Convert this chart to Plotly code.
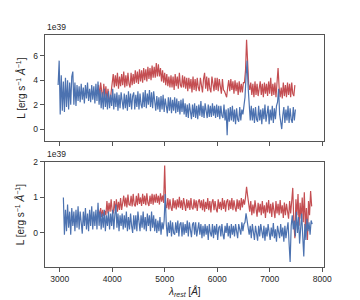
import numpy as np
import plotly.graph_objects as go
from plotly.subplots import make_subplots

# wavelength sampling (start, step in Angstrom) for each spectrum
top_blue_start, top_red_start = 2970, 3740
bot_blue_start, bot_red_start = 3070, 3740
step = 20

# luminosity values in units of 1e39 erg/s/A
top_blue = [
    3.6, 5.6, 1.2, 4.4, 1.5, 3.9, 1.4, 4.2, 1.8, 4.0, 1.6, 3.8, 2.0, 4.3,
    4.7, 2.0, 3.8, 1.9, 3.6, 2.3,
    3.5, 2.2, 3.7, 2.4, 3.4, 2.1, 3.6, 2.5, 3.8, 2.3, 3.3, 2.2, 3.6, 2.4, 3.5, 2.1, 3.7, 2.3, 3.9, 2.0,
    3.2, 1.7, 3.0, 1.6, 3.3, 1.8, 2.9, 1.6, 3.1, 1.7, 2.8, 1.9, 3.3,
    1.6, 2.9, 1.8, 3.0, 1.5, 2.8, 1.7, 3.0, 2.0, 1.6, 2.9, 1.7, 2.8, 1.5, 3.1, 1.8, 2.9, 1.6, 2.7, 3.0,
    1.6, 2.8, 1.8, 3.1, 1.6, 2.9, 2.0, 1.7, 3.0, 1.8, 3.2, 1.7, 2.9, 2.0, 3.2, 1.8, 3.0, 1.7, 3.1, 1.9,
    1.5, 2.7, 1.6, 2.6, 1.4, 2.7, 1.6, 2.8, 1.4, 2.5, 1.7, 1.3, 2.6, 1.5, 2.6, 1.3, 2.4, 1.5, 2.6, 1.3,
    2.5, 1.4, 2.3, 1.2, 2.4, 1.4, 2.5, 1.2,
    2.1, 1.0, 2.0, 0.9, 2.1, 1.1, 0.8, 2.0, 1.0, 2.1, 0.9, 1.9, 0.8, 2.0, 1.1, 2.3, 1.0, 1.9, 0.9, 2.1,
    1.2, 0.9, 2.0, 1.0, 1.9,
    1.0, 2.1, 1.1, 1.9, 0.9, 2.0, 1.0, 1.9, 0.8, 1.9, 1.1, 0.9, 2.0, 0.7, 1.6,
    -0.5,
    1.7, 0.6, 1.8, 0.7, 1.9, 0.6, 1.6, 0.4, 1.7, 0.8, 0.6, 1.8, 0.7, 1.6, 1.2, 1.9,
    2.6, 4.3, 5.6, 3.4, 1.6,
    0.7, 1.9, 0.7, 1.7, 0.5, 1.8, 0.8, 0.6, 1.9, 0.7, 1.6, 0.4, 1.7, 0.8, 2.0, 0.6, 1.5, 1.9, 0.4, 1.6,
    0.7, 1.9, 0.5, 1.7, 0.8, 1.9,
    2.2, 3.3, 1.2,
    0.4, 0.0, 1.1,
    1.8, 0.5, 1.6, 0.7, 1.9, 0.5, 1.7, 0.8, 0.5, 1.8, 0.7, 1.6,
]
top_red = [
    3.6, 2.6, 3.8, 2.8, 2.4, 3.7, 2.6, 3.5, 2.3, 3.3, 2.5, 2.3, 3.2, 3.9,
    4.5, 3.4, 4.4, 3.5, 4.6, 3.3, 4.3, 3.5, 4.5, 3.6, 4.7, 3.4, 4.4, 3.5, 4.6, 3.7, 3.4, 4.6, 3.6, 4.5,
    3.7, 4.8, 3.8, 4.7, 3.7, 4.9, 3.9, 4.8, 3.8, 5.0, 4.0, 4.9, 3.9, 5.1, 4.1, 5.0, 4.0, 5.2, 4.2, 5.1,
    4.2, 5.4, 4.3, 5.3, 4.3,
    5.0, 3.9, 4.8, 3.8, 4.6, 3.6, 4.5, 3.5, 4.3, 3.4,
    4.4, 3.4, 4.3, 3.2, 4.5, 3.5, 4.3, 3.3, 4.6, 3.6, 3.4, 4.4, 3.4, 4.3,
    3.3, 4.2, 3.1, 4.2, 3.3, 4.1, 3.0, 4.3, 3.2, 4.1,
    3.1, 4.2, 3.4, 3.1, 4.2, 3.3, 3.0, 4.1, 4.6, 3.3,
    4.3, 3.1, 4.2, 3.3, 3.0, 4.3, 3.4, 3.1, 4.2, 3.2,
    4.2, 3.1, 4.1, 3.3, 2.9, 4.1, 3.2, 3.1,
    2.8, 2.6, 3.4,
    4.0, 3.1, 4.1, 3.2, 3.9, 2.9, 4.0, 3.1, 3.8, 2.8, 3.9, 3.0, 3.7, 3.0, 3.8,
    3.8, 4.8, 7.3, 5.0, 3.7, 3.2,
    3.8, 2.8, 3.7, 2.6, 3.9, 2.8, 3.7, 2.7, 3.6, 3.9, 2.8, 3.7, 2.6, 3.8, 2.9, 3.7, 2.7, 3.9, 2.9,
    4.2, 2.7, 3.7, 2.8, 3.8, 2.6, 3.6, 5.0, 3.4, 2.6, 3.4, 2.5,
    3.8, 2.7, 3.6, 2.6, 3.8, 2.8, 3.7, 2.6, 3.8, 2.9, 2.7, 3.6,
]
bot_blue = [
    1.0,
    -0.05, 0.65, 0.05, 0.8, 0.15, 0.6, -0.05, 0.7, 0.2, 0.6,
    0.05, 0.65, 0.15, 0.75, 0.1, 0.6, 0.25, -0.02, 0.6, 0.2,
    0.7, 0.1, 0.55, 0.05, 0.65, 0.2, 0.75, 0.1, 0.6, 0.2,
    0.65, 0.1, 0.85,
    0.2, 0.6, 0.1, 0.55, 0.15, 0.65, 0.05, 0.5, 0.2, 0.6, 0.1, 0.55, 0.2, 0.65, 0.1, 0.5,
    0.8, 0.15, 0.55, 0.05, 0.5, 0.2,
    0.55, 0.1, 0.5, 0.15, 0.6, 0.05, 0.45, 0.1, 0.55, 0.2, 0.0, 0.5, 0.1, 0.5, 0.05, 0.6,
    0.2, 0.05, 0.5, 0.15, 0.6, 0.1, 0.45, 0.05, 0.55, 0.2, 0.5, 0.05, 0.6, 0.15, 0.5, 0.05,
    0.4, 0.0, 0.35, 0.05, 0.45, -0.05, 0.3, 0.1, 0.35,
    1.1,
    0.25, -0.1, 0.3, 0.0, 0.35, -0.1, 0.3, 0.0, -0.05, 0.3, 0.0, 0.35, -0.1, 0.25, 0.3, -0.1,
    0.3, -0.05, 0.25, 0.0, 0.35, -0.1, 0.3, 0.0, -0.12, 0.25, 0.3, -0.05, 0.3, -0.1, 0.2, 0.3,
    -0.05, 0.25,
    -0.15, 0.2, -0.1, 0.25, -0.05, 0.2, -0.2, 0.25, 0.0, -0.1,
    0.25, -0.15, 0.2, -0.05, 0.25, -0.2, 0.15, 0.2, -0.1, 0.25,
    -0.05, -0.18, 0.2, 0.0, 0.28, -0.1, 0.2, -0.15, 0.25, -0.05,
    0.2, -0.1, 0.25, 0.0, -0.15, 0.25, 0.05, -0.05, 0.3, 0.05,
    0.25,
    0.3, 0.55, 0.35, 0.1, -0.05,
    0.2, -0.15, 0.25, -0.05, -0.2, 0.2, 0.0, -0.22, 0.2, -0.1,
    0.25, -0.05, -0.15, 0.2, -0.22, 0.15, -0.1, 0.25, -0.05, -0.2,
    0.15, -0.1, 0.28, -0.15, 0.1, -0.25, 0.2, -0.05, -0.15, 0.25,
    -0.1, 0.15, -0.25, 0.2, -0.15, 0.1, 0.3,
    -0.3, -0.82, 0.2, 0.5, 0.1, 0.35, -0.1, 0.6, 0.0, 0.45, -0.3, 0.3, 0.55, -0.1, -0.66, 0.25,
    -0.2, 0.4, 0.05, 0.3, -0.05, 0.35, 0.25,
]
bot_red = [
    0.65, 0.45, 0.7, 0.45, 0.65, 0.48, 0.62, 0.5,
    0.9, 0.55, 0.85, 0.6, 0.95, 0.62, 0.55, 0.9, 0.62, 0.95, 0.6, 0.88, 0.65, 0.98, 0.65,
    0.8, 1.05, 0.75, 1.0, 0.72, 1.08, 0.8, 0.78, 1.05, 0.75,
    1.1, 0.8, 0.75, 1.05, 0.78, 1.12, 0.82, 1.0, 0.76, 1.1,
    0.82, 1.05, 0.78, 1.12, 0.85, 0.76, 1.05, 0.82, 1.1, 0.8,
    1.08, 0.85,
    1.1, 0.85, 1.05, 0.8, 1.12, 0.88, 1.05, 0.85,
    1.9,
    0.8, 0.7, 0.98, 0.66, 0.95, 0.72, 0.62, 0.98, 0.7, 0.92,
    0.66, 0.95, 0.72, 1.02, 0.7, 0.92, 0.65, 0.98, 0.72, 0.62,
    0.95, 0.7, 0.92, 0.65, 0.98, 0.72, 0.66, 0.95, 0.7, 0.92,
    0.62, 0.88, 0.95, 0.7,
    0.92, 0.64, 0.95, 0.6, 0.88, 0.68, 0.98, 0.64, 0.9, 0.58,
    0.86, 0.95, 0.64, 0.9, 0.68, 0.58, 0.95, 0.68, 0.88, 0.64,
    0.98, 0.68, 0.92, 0.6, 0.88, 0.95, 0.64, 0.92, 0.68, 0.98,
    0.64, 0.92, 0.72, 0.6, 0.95, 0.68, 0.92, 0.64, 0.98, 0.72,
    0.95, 0.8,
    1.0, 1.3, 1.05, 0.8,
    0.6, 0.9, 0.5, 0.8, 0.55, 0.92, 0.62, 0.46, 0.85, 0.58,
    0.82, 0.5, 0.9, 0.55, 0.78, 0.42, 0.86, 0.58, 0.93, 0.55,
    0.82, 0.45, 0.86, 0.58, 0.42, 0.9, 0.55, 0.82, 0.5, 0.93,
    0.55, 0.78, 0.42, 0.86, 0.5, 0.82, 0.6, 0.4, 0.9, 0.55,
    0.9, 1.27, 0.3, -0.15, 0.95, 0.5, 1.1, 0.2, 0.85, 0.4,
    1.0, 0.3, 1.15, 0.1, 0.7, -0.2, 0.9, 0.5, 1.18, 0.75,
]

RED = "#c44e52"
BLUE = "#4c72b0"
AX = "#555555"
TXT = "#262626"
FONT = "Liberation Sans, Arial, sans-serif"


def wl(start, vals):
    return start + step * np.arange(len(vals))


fig = make_subplots(rows=2, cols=1, shared_xaxes=True, vertical_spacing=0.09)

for row, (rs, rv, bs, bv) in enumerate(
    [(top_red_start, top_red, top_blue_start, top_blue),
     (bot_red_start, bot_red, bot_blue_start, bot_blue)], start=1):
    fig.add_trace(go.Scatter(x=wl(rs, rv), y=rv, mode="lines",
                             line=dict(color=RED, width=1.2), showlegend=False), row=row, col=1)
    fig.add_trace(go.Scatter(x=wl(bs, bv), y=bv, mode="lines",
                             line=dict(color=BLUE, width=1.2), showlegend=False), row=row, col=1)

axis_common = dict(showline=True, mirror=True, linecolor=AX, linewidth=1.4,
                   ticks="outside", ticklen=4, tickwidth=1, tickcolor=AX,
                   showgrid=False, zeroline=False,
                   tickfont=dict(family=FONT, size=8.5, color=TXT))

fig.update_layout(
    width=360, height=300,
    margin=dict(l=45, r=36, t=35, b=33),
    paper_bgcolor="white", plot_bgcolor="white",
    font=dict(family=FONT, size=8.5, color=TXT),
    xaxis=dict(axis_common, range=[2720, 8035], tickvals=[3000, 4000, 5000, 6000, 7000, 8000],
               showticklabels=False, domain=[0, 1]),
    xaxis2=dict(axis_common, range=[2720, 8035], tickvals=[3000, 4000, 5000, 6000, 7000, 8000],
                domain=[0, 1]),
    yaxis=dict(axis_common, range=[-0.98, 7.7], tickvals=[0, 2, 4, 6], domain=[0.543, 1.0]),
    yaxis2=dict(axis_common, range=[-0.96, 2.0], tickvals=[0, 1, 2], domain=[0.0, 0.4526]),
)

ylabel = "L [erg s<sup>−1</sup> <i>Å</i><sup>−1</sup>]"
LBL = 10
annos = [
    dict(text="1e39", x=0, y=1.0, xref="paper", yref="paper", xanchor="left", yanchor="bottom",
         yshift=1, showarrow=False, font=dict(size=8.5, color=TXT)),
    dict(text="1e39", x=0, y=0.4526, xref="paper", yref="paper", xanchor="left", yanchor="bottom",
         yshift=1, showarrow=False, font=dict(size=8.5, color=TXT)),
    dict(text=ylabel, x=-0.087, y=(0.543 + 1.0) / 2, xref="paper", yref="paper", textangle=-90,
         xanchor="center", yanchor="middle", showarrow=False, font=dict(size=LBL, color=TXT)),
    dict(text=ylabel, x=-0.087, y=0.4526 / 2, xref="paper", yref="paper", textangle=-90,
         xanchor="center", yanchor="middle", showarrow=False, font=dict(size=LBL, color=TXT)),
    dict(text="<i>λ<sub>rest</sub></i> [<i>Å</i>]", x=0.5, y=0, xref="paper", yref="paper",
         xanchor="center", yanchor="top", yshift=-16, showarrow=False,
         font=dict(size=LBL, color=TXT)),
]
fig.update_layout(annotations=annos)

fig.write_html("out.html", config={"displayModeBar": False},
               post_script="document.body.style.margin='0px';")
